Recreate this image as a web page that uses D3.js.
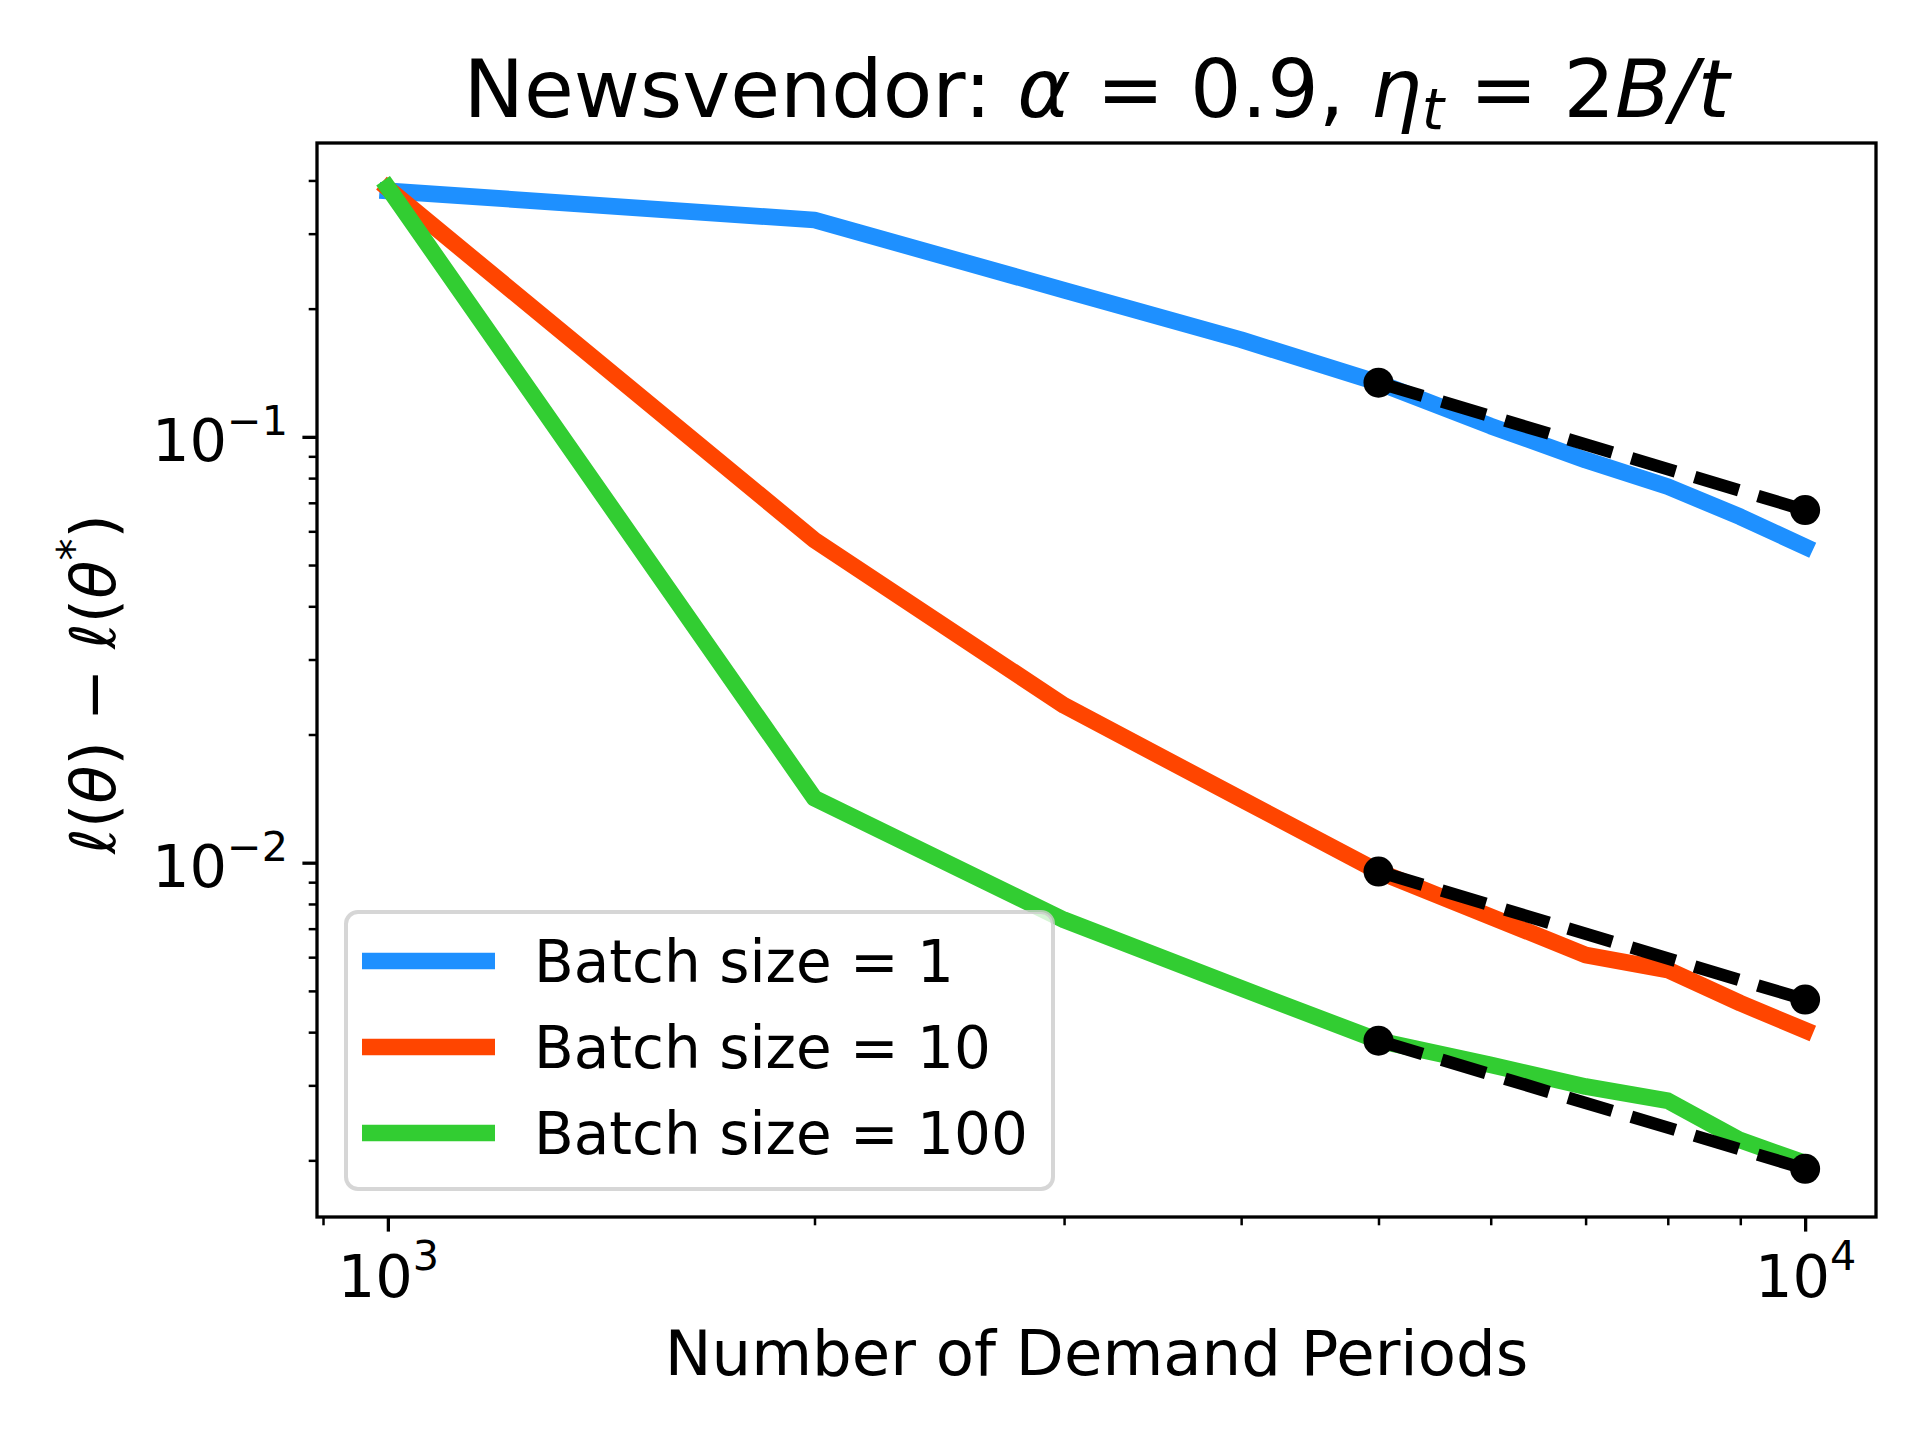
<!DOCTYPE html>
<html><head><meta charset="utf-8">
<script src="https://cdn.jsdelivr.net/npm/d3@7"></script>
<style>
body{margin:0;background:#fff}
svg{display:block}
text{font-family:"DejaVu Sans",sans-serif;fill:#000}
</style>
</head><body>
<script>
// ---- data ----
const periods = [1000, 2000, 3000, 4000, 5000, 6000, 7000, 8000, 9000, 10000];
const batch1 = [0.378, 0.323, 0.221, 0.169, 0.134, 0.106, 0.0882, 0.0764, 0.0649, 0.0552];
const batch10 = [0.383, 0.0572, 0.0234, 0.0141, 0.00953, 0.00747, 0.00607, 0.00560, 0.00468, 0.00404];
const batch100 = [0.385, 0.01416, 0.00734, 0.00507, 0.00382, 0.00335, 0.00298, 0.00276, 0.00223, 0.00197];
const refPeriods = [5000, 10000];
const ref1 = [0.134, 0.0673];
const ref10 = [0.00953, 0.00477];
const ref100 = [0.00382, 0.00191];
const seriesNames = ["Batch size = 1", "Batch size = 10", "Batch size = 100"];
const seriesColors = ["#1E90FF", "#FF4500", "#32CD32"];
const xMajorTicks = [1000, 10000];
const xMinorTicks = [900, 2000, 3000, 4000, 5000, 6000, 7000, 8000, 9000];
const yMajorTicks = [0.01, 0.1];
const yMinorTicks = [0.002, 0.003, 0.004, 0.005, 0.006, 0.007, 0.008, 0.009,
                     0.02, 0.03, 0.04, 0.05, 0.06, 0.07, 0.08, 0.09, 0.2, 0.3, 0.4];

// ---- layout ----
const W = 1920, H = 1440;
const L = 317, R = 1876, T = 143, B = 1217;
const svg = d3.select("body").append("svg").attr("width", W).attr("height", H);

const x = d3.scaleLog().domain([Math.pow(10, 2.95), Math.pow(10, 4.05)]).range([L, R]);
const y = d3.scaleLog().domain([Math.pow(10, -2.832), Math.pow(10, -0.31)]).range([B, T]);

const FT = 59; // tick font px
function supLabel(sel, base, exp) {
  sel.text(null);
  sel.append("tspan").text(base);
  sel.append("tspan").attr("font-size", FT * 0.7).attr("dy", -FT * 0.45).text(exp);
}
const expOf = v => { const e = Math.round(Math.log10(v)); return e < 0 ? "\u2212" + (-e) : String(e); };

// x axis
const gxMinor = svg.append("g").attr("transform", `translate(0,${B})`)
  .call(d3.axisBottom(x).tickValues(xMinorTicks).tickSize(8.3).tickFormat(""));
gxMinor.select(".domain").remove();
gxMinor.selectAll("line").attr("stroke-width", 2.5);
const gx = svg.append("g").attr("transform", `translate(0,${B})`)
  .call(d3.axisBottom(x).tickValues(xMajorTicks).tickSize(14.6).tickFormat(d => d));
gx.select(".domain").remove();
gx.selectAll("line").attr("stroke-width", 3.3);
gx.selectAll("text").attr("y", 80).attr("dy", 0).attr("font-size", FT)
  .attr("font-family", "DejaVu Sans").attr("text-anchor", "middle")
  .each(function(d){ supLabel(d3.select(this), "10", expOf(d)); });

// y axis
const gyMinor = svg.append("g").attr("transform", `translate(${L},0)`)
  .call(d3.axisLeft(y).tickValues(yMinorTicks).tickSize(8.3).tickFormat(""));
gyMinor.select(".domain").remove();
gyMinor.selectAll("line").attr("stroke-width", 2.5);
const gy = svg.append("g").attr("transform", `translate(${L},0)`)
  .call(d3.axisLeft(y).tickValues(yMajorTicks).tickSize(14.6).tickFormat(d => d));
gy.select(".domain").remove();
gy.selectAll("line").attr("stroke-width", 3.3);
gy.selectAll("text").attr("x", -29).attr("dy", 24).attr("font-size", FT)
  .attr("font-family", "DejaVu Sans").attr("text-anchor", "end")
  .each(function(d){ supLabel(d3.select(this), "10", expOf(d)); });

// ---- lines ----
const clip = svg.append("clipPath").attr("id", "clip").append("rect")
  .attr("x", L).attr("y", T).attr("width", R - L).attr("height", B - T);
const plot = svg.append("g").attr("clip-path", "url(#clip)");
const line = d3.line().x(d => x(d[0])).y(d => y(d[1]));
[batch1, batch10, batch100].forEach((vals, i) => {
  plot.append("path")
    .attr("d", line(periods.map((p, j) => [p, vals[j]])))
    .attr("fill", "none").attr("stroke", seriesColors[i]).attr("stroke-width", 16.7)
    .attr("stroke-linecap", "square").attr("stroke-linejoin", "round");
});
[ref1, ref10, ref100].forEach(vals => {
  const pts = refPeriods.map((p, j) => [p, vals[j]]);
  plot.append("path").attr("d", line(pts))
    .attr("fill", "none").attr("stroke", "#000").attr("stroke-width", 12.5)
    .attr("stroke-dasharray", "46,20").attr("stroke-linecap", "butt");
  plot.selectAll(null).data(pts).enter().append("circle")
    .attr("cx", d => x(d[0])).attr("cy", d => y(d[1])).attr("r", 15).attr("fill", "#000");
});

// spines
svg.append("rect").attr("x", L).attr("y", T).attr("width", R - L).attr("height", B - T)
  .attr("fill", "none").attr("stroke", "#000").attr("stroke-width", 3.3);

// ---- legend ----
const lg = svg.append("g");
lg.append("rect").attr("x", 346).attr("y", 912).attr("width", 707).attr("height", 277)
  .attr("rx", 12).attr("fill", "#fff").attr("fill-opacity", 0.8)
  .attr("stroke", "#cccccc").attr("stroke-opacity", 0.8).attr("stroke-width", 4);
seriesNames.forEach((name, i) => {
  const cy = 961 + i * 86;
  lg.append("line").attr("x1", 362).attr("x2", 495).attr("y1", cy).attr("y2", cy)
    .attr("stroke", seriesColors[i]).attr("stroke-width", 16.7);
  lg.append("text").attr("x", 534).attr("y", cy + 21).attr("font-size", 58).text(name);
});

// ---- labels ----
svg.append("text").attr("x", (L + R) / 2).attr("y", 1375).attr("text-anchor", "middle")
  .attr("font-size", 62.5).text("Number of Demand Periods");

const yl = svg.append("text").attr("transform", `translate(115,684) rotate(-90)`)
  .attr("text-anchor", "middle").attr("font-size", 62.5);
yl.append("tspan").attr("font-style", "italic").text("\u2113");
yl.append("tspan").text("(");
yl.append("tspan").attr("font-style", "italic").text("\u03B8");
yl.append("tspan").text(") \u2212 ");
yl.append("tspan").attr("font-style", "italic").text("\u2113");
yl.append("tspan").text("(");
yl.append("tspan").attr("font-style", "italic").text("\u03B8");
yl.append("tspan").attr("font-size", 44).attr("dy", -26).text("*");
yl.append("tspan").attr("dy", 26).text(")");

const tt = svg.append("text").attr("x", (L + R) / 2).attr("y", 117).attr("text-anchor", "middle")
  .attr("font-size", 81);
tt.append("tspan").text("Newsvendor: ");
tt.append("tspan").attr("font-style", "italic").text("\u03B1");
tt.append("tspan").text(" = 0.9, ");
tt.append("tspan").attr("font-style", "italic").text("\u03B7");
tt.append("tspan").attr("font-style", "italic").attr("font-size", 57).attr("dy", 12).text("t");
tt.append("tspan").attr("dy", -12).text(" = 2");
tt.append("tspan").attr("font-style", "italic").text("B/t");
</script>
</body></html>
